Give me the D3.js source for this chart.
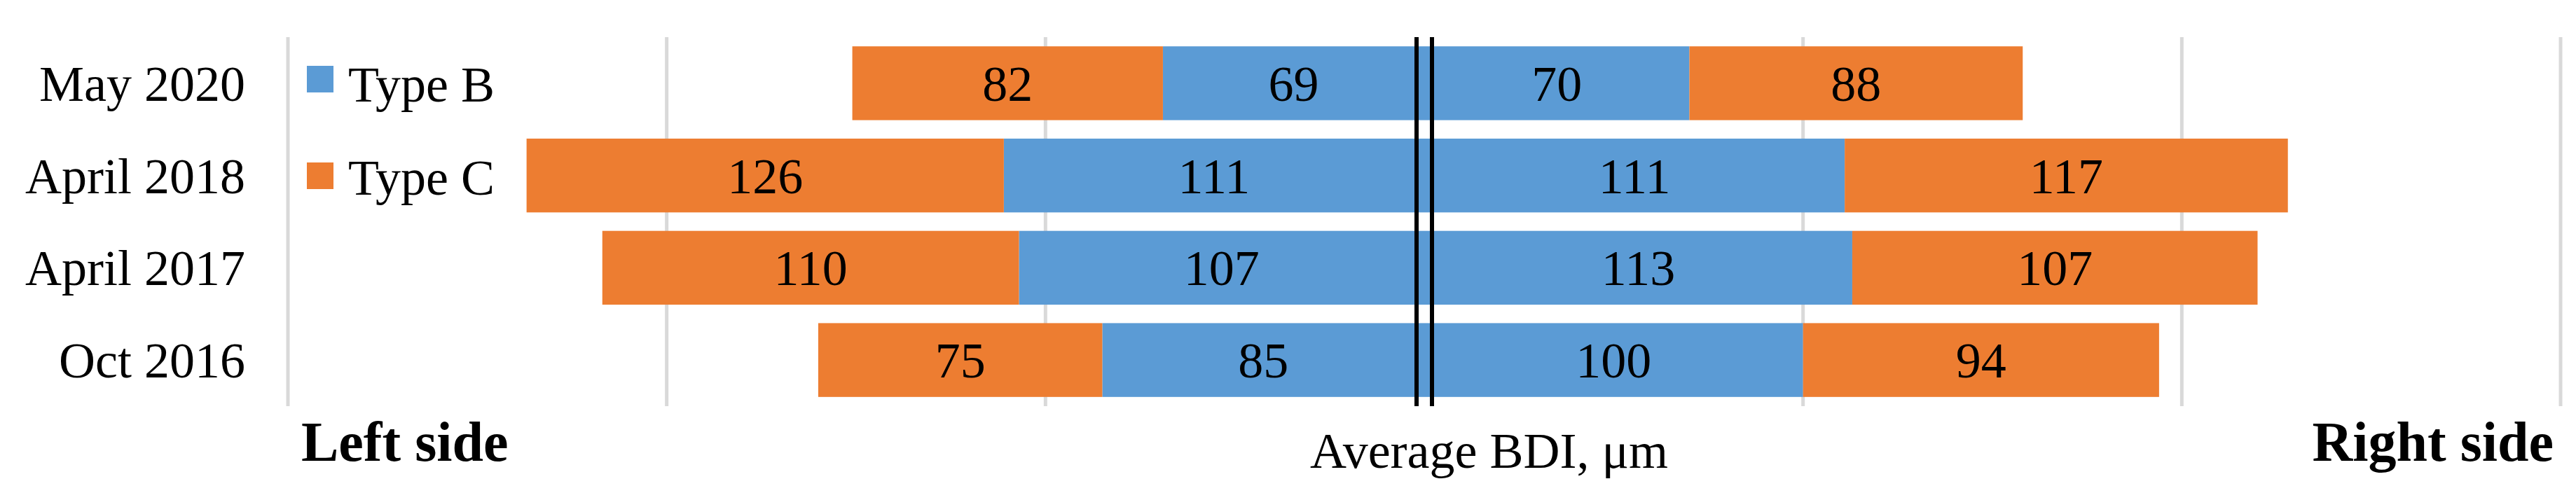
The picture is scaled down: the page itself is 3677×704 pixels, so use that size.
<!DOCTYPE html>
<html><head><meta charset="utf-8">
<script src="https://cdn.jsdelivr.net/npm/d3@7"></script>
<style>body{margin:0;background:#fff}text{font-family:"Liberation Serif","Times New Roman",serif}</style>
</head><body>
<script>
// data
var periods = ["May 2020", "April 2018", "April 2017", "Oct 2016"];
var leftB = [69, 111, 107, 85];
var leftC = [82, 126, 110, 75];
var rightB = [70, 111, 113, 100];
var rightC = [88, 117, 107, 94];
var ticks = [-300, -200, -100, 0, 100, 200, 300];

var width = 3677, height = 704,
    blue = "#5B9BD5", orange = "#ED7D31";

var svg = d3.select("body").append("svg").attr("width", width).attr("height", height);

var x = d3.scaleLinear().domain([-300, 300]).range([411, 3655]);
var y = d3.scaleBand().domain(periods).range([53, 580]).paddingInner(0.2).paddingOuter(0.1);

// gridlines
svg.selectAll(".grid").data(ticks.filter(function (t) { return t != 0; })).enter().append("line")
    .attr("x1", function (d) { return x(d); }).attr("x2", function (d) { return x(d); })
    .attr("y1", 53).attr("y2", 580)
    .attr("stroke", "#d9d9d9").attr("stroke-width", 5);

// bars: build segments
var segs = [];
periods.forEach(function (p, i) {
    segs.push({ p: p, x0: -leftB[i], x1: 0, v: leftB[i], c: blue });
    segs.push({ p: p, x0: -leftB[i] - leftC[i], x1: -leftB[i], v: leftC[i], c: orange });
    segs.push({ p: p, x0: 0, x1: rightB[i], v: rightB[i], c: blue });
    segs.push({ p: p, x0: rightB[i], x1: rightB[i] + rightC[i], v: rightC[i], c: orange });
});

svg.selectAll(".bar").data(segs).enter().append("rect")
    .attr("x", function (d) { return x(d.x0); })
    .attr("width", function (d) { return x(d.x1) - x(d.x0); })
    .attr("y", function (d) { return y(d.p); })
    .attr("height", y.bandwidth())
    .attr("fill", function (d) { return d.c; });

svg.selectAll(".val").data(segs).enter().append("text")
    .attr("x", function (d) { return (x(d.x0) + x(d.x1)) / 2; })
    .attr("y", function (d) { return y(d.p) + y.bandwidth() / 2 + 25; })
    .attr("text-anchor", "middle").attr("font-size", 72)
    .text(function (d) { return d.v; });

// center double line
[-11, 11].forEach(function (o) {
    svg.append("line").attr("x1", x(0) + o).attr("x2", x(0) + o)
        .attr("y1", 53).attr("y2", 580).attr("stroke", "#000").attr("stroke-width", 6);
});

// category labels
svg.selectAll(".cat").data(periods).enter().append("text")
    .attr("x", 350).attr("y", function (d) { return y(d) + y.bandwidth() / 2 + 25; })
    .attr("text-anchor", "end").attr("font-size", 72)
    .text(function (d) { return d; });

// legend
var legend = [{ n: "Type B", c: blue }, { n: "Type C", c: orange }];
legend.forEach(function (l, i) {
    svg.append("rect").attr("x", 438).attr("y", 94 + i * 138).attr("width", 38).attr("height", 38).attr("fill", l.c);
    svg.append("text").attr("x", 497).attr("y", 145 + i * 133).attr("font-size", 72).text(l.n);
});

// bottom labels
svg.append("text").attr("x", 430).attr("y", 658).attr("font-size", 80).attr("font-weight", "bold").text("Left side");
svg.append("text").attr("x", 3645).attr("y", 658).attr("font-size", 80).attr("font-weight", "bold")
    .attr("text-anchor", "end").text("Right side");
svg.append("text").attr("x", 1870).attr("y", 668).attr("font-size", 72).text("Average BDI,  μm");
</script>
</body></html>
